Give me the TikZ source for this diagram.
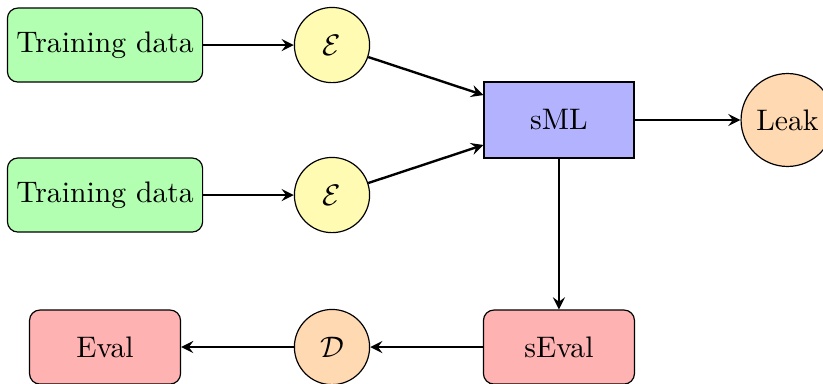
\documentclass[tikz,border=0pt]{standalone}
\usetikzlibrary{arrows}
\begin{document}
\begin{tikzpicture}[
  x=1cm, y=-1cm,
  databox/.style={draw, rounded corners=3.5pt, fill=green!30, minimum width=2.31cm, minimum height=0.876cm, inner sep=0pt},
  evalbox/.style={draw, rounded corners=3.5pt, fill=red!30, minimum width=1.787cm, minimum height=0.876cm, inner sep=0pt},
  mlbox/.style={draw, fill=blue!30, minimum width=1.775cm, minimum height=0.9cm, inner sep=0pt},
  enc/.style={draw, circle, fill=yellow!30, minimum size=0.89cm, inner sep=0pt},
  outc/.style={draw, circle, fill=orange!30, minimum size=0.89cm, inner sep=0pt},
  conn/.style={->, >=stealth, thick}
]
\useasboundingbox (0,0) rectangle (9.74,4.544);
\node[databox] (td1) at (1.243,0.533) {Training data};
\node[databox] (td2) at (1.243,2.308) {Training data};
\node[enc] (e1) at (3.929,0.533) {$\mathcal{E}$};
\node[enc] (e2) at (3.929,2.308) {$\mathcal{E}$};
\node[mlbox] (sml) at (6.615,1.42) {sML};
\node[outc, minimum size=1.1cm] (leak) at (9.32,1.42) {Leak};
\node[evalbox] (seval) at (6.615,4.107) {sEval};
\node[outc] (dec) at (3.929,4.107) {$\mathcal{D}$};
\node[evalbox] (eval) at (1.243,4.107) {Eval};
\draw[conn] (td1) -- (e1);
\draw[conn] (td2) -- (e2);
\draw[conn] (e1) -- (sml);
\draw[conn] (e2) -- (sml);
\draw[conn] (sml) -- (leak);
\draw[conn] (sml) -- (seval);
\draw[conn] (seval) -- (dec);
\draw[conn] (dec) -- (eval);
\end{tikzpicture}
\end{document}
